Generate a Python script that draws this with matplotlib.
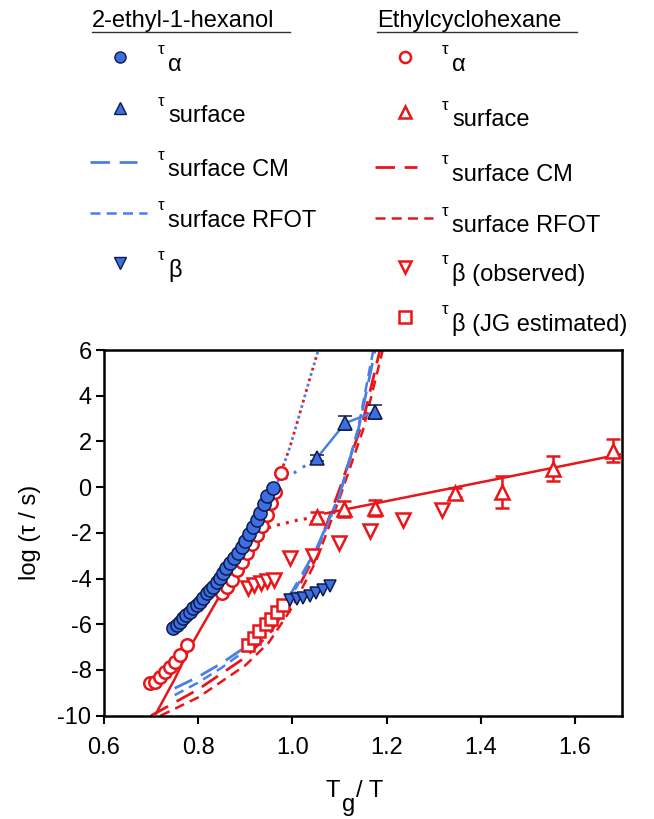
import matplotlib
matplotlib.use("Agg")
import matplotlib.pyplot as plt

plt.rcParams['font.family'] = ['Liberation Sans', 'DejaVu Sans']

BLUE = '#3d6fe2'
BLUE_LINE = '#4a7fe8'
BLUE_EDGE = '#0d1b4d'
RED = '#e8161b'

# ---- 2-ethyl-1-hexanol ----
eh_alpha_x = [0.747, 0.754, 0.761, 0.768, 0.775, 0.783, 0.790, 0.797, 0.804, 0.811,
              0.818, 0.825, 0.832, 0.839, 0.846, 0.853, 0.860, 0.868, 0.875, 0.885,
              0.893, 0.900, 0.908, 0.916, 0.924, 0.931, 0.939, 0.947, 0.959]
eh_alpha_y = [-6.17, -6.03, -5.88, -5.74, -5.59, -5.45, -5.30, -5.15, -5.01, -4.87,
              -4.65, -4.50, -4.35, -4.13, -3.99, -3.77, -3.55, -3.33, -3.11, -2.89,
              -2.60, -2.35, -2.05, -1.75, -1.45, -1.13, -0.75, -0.40, -0.05]
eh_surf_x = [1.052, 1.112, 1.175]
eh_surf_y = [1.27, 2.80, 3.30]
eh_surf_err = [0.12, 0.30, 0.30]
eh_beta_x = [0.995, 1.009, 1.023, 1.037, 1.051, 1.065, 1.080]
eh_beta_y = [-4.95, -4.90, -4.84, -4.75, -4.62, -4.48, -4.32]
eh_cm_x = [0.750, 0.800, 0.850, 0.900, 0.950, 1.000, 1.050, 1.100, 1.140, 1.176]
eh_cm_y = [-8.80, -8.30, -7.70, -7.00, -5.95, -4.55, -2.75, -0.35, 2.50, 6.00]
eh_rfot_x = [0.750, 0.800, 0.850, 0.900, 0.950, 1.000, 1.050, 1.100, 1.140, 1.172]
eh_rfot_y = [-9.10, -8.55, -7.90, -7.15, -6.10, -4.70, -2.85, -0.40, 2.60, 6.00]
eh_dot_x = [0.965, 1.052]
eh_dot_y = [0.10, 1.27]

# ---- Ethylcyclohexane ----
ech_alpha_x = [0.698, 0.708, 0.719, 0.730, 0.740, 0.751, 0.761, 0.776,
               0.850, 0.861, 0.872, 0.882, 0.893, 0.904, 0.915, 0.925,
               0.935, 0.946, 0.955, 0.963, 0.976]
ech_alpha_y = [-8.57, -8.52, -8.30, -8.09, -7.87, -7.65, -7.34, -6.90,
               -4.63, -4.37, -4.06, -3.62, -3.27, -2.88, -2.50, -2.10,
               -1.70, -1.20, -0.70, -0.20, 0.60]
ech_fit_x = [0.708, 0.750, 0.783, 0.850, 0.905, 0.930]
ech_fit_y = [-10.0, -8.40, -7.00, -4.60, -2.80, -1.90]
ech_dot_x = [0.930, 0.970, 1.010, 1.052]
ech_dot_y = [-1.90, -1.65, -1.45, -1.30]
vft_dot_x = [0.965, 0.975, 0.995, 1.016, 1.035, 1.055]
vft_dot_y = [0.00, 0.60, 1.76, 3.24, 4.60, 6.00]
ech_surf_x = [1.052, 1.110, 1.175, 1.345, 1.445, 1.553, 1.680]
ech_surf_y = [-1.30, -0.95, -0.90, -0.25, -0.20, 0.80, 1.60]
ech_surf_err = [0.20, 0.35, 0.35, 0.20, 0.70, 0.55, 0.50]
ech_surf_fit_x = [1.070, 1.700]
ech_surf_fit_y = [-1.15, 1.45]
ech_beta_x = [0.905, 0.919, 0.933, 0.947, 0.962, 0.995, 1.044, 1.100, 1.165, 1.235, 1.317]
ech_beta_y = [-4.43, -4.30, -4.20, -4.12, -4.05, -3.08, -3.00, -2.45, -1.90, -1.45, -1.02]
ech_jg_x = [0.905, 0.918, 0.930, 0.943, 0.955, 0.968, 0.980]
ech_jg_y = [-6.90, -6.60, -6.30, -6.00, -5.75, -5.45, -5.15]
ech_cm_x = [0.700, 0.800, 0.900, 0.950, 1.000, 1.050, 1.100, 1.150, 1.186]
ech_cm_y = [-10.0, -8.85, -7.45, -6.45, -4.90, -2.90, -0.10, 2.90, 6.00]
ech_rfot_x = [0.720, 0.800, 0.900, 0.950, 1.000, 1.050, 1.100, 1.150, 1.192]
ech_rfot_y = [-10.0, -9.20, -7.80, -6.80, -5.25, -3.25, -0.50, 2.50, 6.00]

xticks = [0.6, 0.8, 1.0, 1.2, 1.4, 1.6]
yticks = [6, 4, 2, 0, -2, -4, -6, -8, -10]

W, H = 654, 819
fig = plt.figure(figsize=(W / 100, H / 100), dpi=100)
ax = fig.add_axes([104 / W, 1 - 715.7 / H, 518 / W, 365.7 / H])

# model curves
ax.plot(ech_cm_x, ech_cm_y, color=RED, lw=2, dashes=(7, 3.5), zorder=2)
ax.plot(ech_rfot_x, ech_rfot_y, color=RED, lw=1.8, dashes=(4, 2.5), zorder=2)
ax.plot(eh_cm_x, eh_cm_y, color=BLUE_LINE, lw=2, dashes=(7, 3.5), zorder=2)
ax.plot(eh_rfot_x, eh_rfot_y, color=BLUE_LINE, lw=1.8, dashes=(4, 2.5), zorder=2)

# fits and extrapolations
ax.plot(ech_fit_x, ech_fit_y, color=RED, lw=1.8, zorder=3)
ax.plot(ech_dot_x, ech_dot_y, color=RED, lw=2.2, ls=(0, (1, 2)), zorder=3)
ax.plot(vft_dot_x, vft_dot_y, color=RED, lw=2, ls=(0, (1, 3)), zorder=3)
ax.plot(vft_dot_x, vft_dot_y, color=BLUE_LINE, lw=2, ls=(2, (1, 3)), zorder=3)
ax.plot(eh_dot_x, eh_dot_y, color=BLUE_LINE, lw=2.2, ls=(0, (1, 2.5)), zorder=3)
ax.plot(ech_surf_fit_x, ech_surf_fit_y, color=RED, lw=1.8, zorder=3)
ax.plot(eh_surf_x, eh_surf_y, color=BLUE_LINE, lw=1.8, zorder=3)

# data
ax.plot(ech_alpha_x, ech_alpha_y, 'o', ms=9, mfc='white', mec=RED, mew=1.8, zorder=4)
ax.plot(ech_jg_x, ech_jg_y, 's', ms=8.5, mfc='white', mec=RED, mew=1.8, zorder=4)
ax.plot(ech_beta_x, ech_beta_y, 'v', ms=9.5, mfc='white', mec=RED, mew=1.8, zorder=4)
ax.errorbar(ech_surf_x, ech_surf_y, yerr=ech_surf_err, fmt='^', ms=10, mfc='white',
            mec=RED, mew=1.8, ecolor=RED, elinewidth=1.8, capsize=5, capthick=1.8, zorder=4)
ax.plot(eh_alpha_x, eh_alpha_y, 'o', ms=9.5, mfc=BLUE, mec=BLUE_EDGE, mew=1.1, zorder=5)
ax.plot(eh_beta_x, eh_beta_y, 'v', ms=9, mfc=BLUE, mec=BLUE_EDGE, mew=1.1, zorder=5)
ax.errorbar(eh_surf_x, eh_surf_y, yerr=eh_surf_err, fmt='^', ms=10, mfc=BLUE,
            mec=BLUE_EDGE, mew=1.1, ecolor=BLUE_EDGE, elinewidth=1.5, capsize=5,
            capthick=1.5, zorder=5)

ax.set_xlim(0.6, 1.7)
ax.set_ylim(-10, 6)
ax.set_xticks(xticks)
ax.set_xticklabels([f'{t:.1f}' for t in xticks])
ax.set_yticks(yticks)
ax.set_yticklabels([str(t) for t in yticks])
ax.tick_params(direction='out', length=6, width=1.5, labelsize=17, pad=3)
ax.tick_params(axis='x', pad=9)
for s in ax.spines.values():
    s.set_linewidth(1.8)
ax.set_ylabel('log (τ / s)', fontsize=17, labelpad=12)

# ---- legend and x label drawn in pixel space ----
lax = fig.add_axes([0, 0, 1, 1], zorder=-1)
lax.set_xlim(0, W)
lax.set_ylim(H, 0)
lax.axis('off')

lax.text(326, 791, 'T', fontsize=17, va='center', ha='left')
lax.text(342, 805, 'g', fontsize=17, va='center', ha='left')
lax.text(356, 791, '/ T', fontsize=17, va='center', ha='left')


def label(x, y, sub, rest=''):
    lax.text(x, y - 7, 'τ', fontsize=12, va='center', ha='left')
    lax.text(x + 10, y + 8, sub + rest, fontsize=17, va='center', ha='left')


def title(x0, x1, text):
    lax.text(x0, 21, text, fontsize=17, va='center', ha='left')
    lax.plot([x0, x1], [32, 32], color='#333333', lw=1)


title(92, 290, '2-ethyl-1-hexanol')
lax.plot(120, 57, 'o', ms=8, mfc=BLUE, mec=BLUE_EDGE, mew=1)
label(158, 57, 'α')
lax.plot(120, 108, '^', ms=9, mfc=BLUE, mec=BLUE_EDGE, mew=1)
label(158, 108, 'surface')
lax.plot([90, 137], [162, 162], color=BLUE_LINE, lw=2, dashes=(7, 3.5))
label(158, 162, 'surface CM')
lax.plot([90, 147], [213, 213], color=BLUE_LINE, lw=1.8, dashes=(4, 2.5))
label(158, 213, 'surface RFOT')
lax.plot(120, 263, 'v', ms=8, mfc=BLUE, mec=BLUE_EDGE, mew=1)
label(158, 263, 'β')

title(377, 577, 'Ethylcyclohexane')
lax.plot(405, 57, 'o', ms=8, mfc='white', mec=RED, mew=1.8)
label(442, 57, 'α')
lax.plot(405, 112, '^', ms=9, mfc='white', mec=RED, mew=1.8)
label(442, 112, 'surface')
lax.plot([375, 417], [167, 167], color=RED, lw=2, dashes=(7, 3.5))
label(442, 167, 'surface CM')
lax.plot([375, 433], [218, 218], color=RED, lw=1.8, dashes=(4, 2.5))
label(442, 218, 'surface RFOT')
lax.plot(405, 267, 'v', ms=8.5, mfc='white', mec=RED, mew=1.8)
label(442, 267, 'β', ' (observed)')
lax.plot(405, 317, 's', ms=8, mfc='white', mec=RED, mew=1.8)
label(442, 317, 'β', ' (JG estimated)')

fig.savefig('out.png', dpi=100)
